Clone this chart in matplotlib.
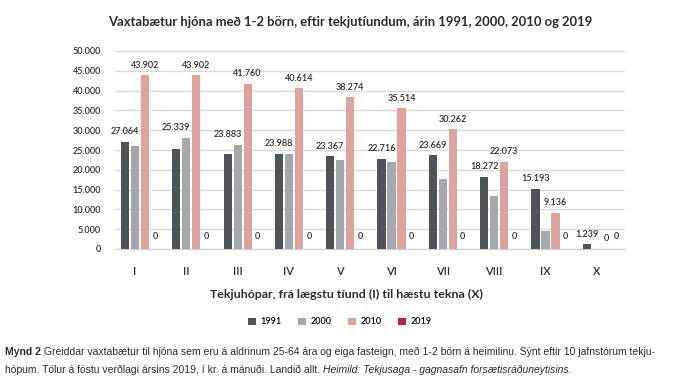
import numpy as np
import matplotlib.pyplot as plt

# tekjutíundir
groups = ["I", "II", "III", "IV", "V", "VI", "VII", "VIII", "IX", "X"]
y1991 = [27064, 25339, 23883, 23988, 23367, 22716, 23669, 18272, 15193, 1239]
y2000 = [26000, 28100, 26300, 24000, 22600, 22000, 17800, 13500, 4600, 0]
y2010 = [43902, 43902, 41760, 40614, 38274, 35514, 30262, 22073, 9136, 0]
y2019 = [0, 0, 0, 0, 0, 0, 0, 0, 0, 0]
years = ["1991", "2000", "2010", "2019"]
colors = ["#4d5358", "#a3a8ac", "#e0a29d", "#c11b48"]

plt.rcParams['font.family'] = ['Lato', 'DejaVu Sans']
txt = "#2b2b2b"
wt = "semibold"

fig = plt.figure(figsize=(6.73, 3.85), dpi=100)
ax = fig.add_axes([115/673, 1 - 249/385, 510/673, 198/385])

x = np.arange(len(groups))
w = 0.16
step = 0.195
series = [y1991, y2000, y2010, y2019]
for i, (vals, c) in enumerate(zip(series, colors)):
    ax.bar(x + (i - 1) * step, vals, w, color=c, label=years[i], zorder=3)

fmt = lambda v: f"{v:,}".replace(",", ".")
for j in range(len(groups)):
    top = max(y1991[j], y2000[j])
    ax.annotate(fmt(y1991[j]), (x[j] - step, top), xytext=(0, 4), textcoords="offset points",
                ha="center", va="bottom", fontsize=6.5, color=txt, fontweight=wt)
    ax.annotate(fmt(y2010[j]), (x[j] + step, y2010[j]), xytext=(0, 4), textcoords="offset points",
                ha="center", va="bottom", fontsize=6.5, color=txt, fontweight=wt)
    ax.annotate(fmt(y2019[j]), (x[j] + 2 * step, y2019[j]), xytext=(0, 6), textcoords="offset points",
                ha="center", va="bottom", fontsize=6.5, color=txt, fontweight=wt)

ax.set_xlim(-0.39, 9.55)
ax.set_ylim(0, 50000)
ax.set_yticks(np.arange(0, 50001, 5000))
ax.set_yticklabels([fmt(v) for v in range(0, 50001, 5000)], fontsize=6.5, color=txt, fontweight=wt)
ax.set_xticks(x)
ax.set_xticklabels(groups, fontsize=8, color=txt, fontweight=wt)
ax.tick_params(length=0, pad=10)
ax.tick_params(axis="x", pad=12)
ax.grid(axis="y", color="#d9d9d9", linewidth=1, zorder=0)
for s in ["top", "right", "left"]:
    ax.spines[s].set_visible(False)
ax.spines["bottom"].set_color("#cfcfcf")

fig.text(350/673, 1 - 22/385, "Vaxtabætur hjóna með 1-2 börn, eftir tekjutíundum, árin 1991, 2000, 2010 og 2019",
         ha="center", va="center", fontsize=9.4, fontweight="bold", color=txt)
fig.text(347/673, 1 - 294/385, "Tekjuhópar, frá lægstu tíund (I) til hæstu tekna (X)",
         ha="center", va="center", fontsize=8.9, fontweight="bold", color=txt)

fig.legend(loc="center", bbox_to_anchor=(340/673, 1 - 322/385), ncol=4, frameon=False,
           prop={"size": 6.5, "weight": wt}, handlelength=0.9, handleheight=0.9,
           columnspacing=1.8, handletextpad=0.5)

# myndatexti
cap_font = ['Liberation Sans', 'DejaVu Sans']
r = fig.canvas.get_renderer()
def write(parts, xpos, ypos):
    for s, kw in parts:
        t = fig.text(xpos, ypos, s, fontsize=7.5, color=txt, family=cap_font, va="center", **kw)
        bb = t.get_window_extent(renderer=r)
        xpos += bb.width / fig.bbox.width

write([("Mynd 2", {"fontweight": "bold"}),
       (" Greiddar vaxtabætur til hjóna sem eru á aldrinum 25-64 ára og eiga fasteign, með 1-2 börn á heimilinu. Sýnt eftir 10 jafnstórum tekju-", {})],
      5/673, 1 - 352/385)
write([("hópum. Tölur á föstu verðlagi ársins 2019, í kr. á mánuði. Landið allt. ", {}),
       ("Heimild: Tekjusaga - gagnasafn forsætisráðuneytisins.", {"style": "italic"})],
      5/673, 1 - 370/385)

fig.savefig("out.png", dpi=100)
